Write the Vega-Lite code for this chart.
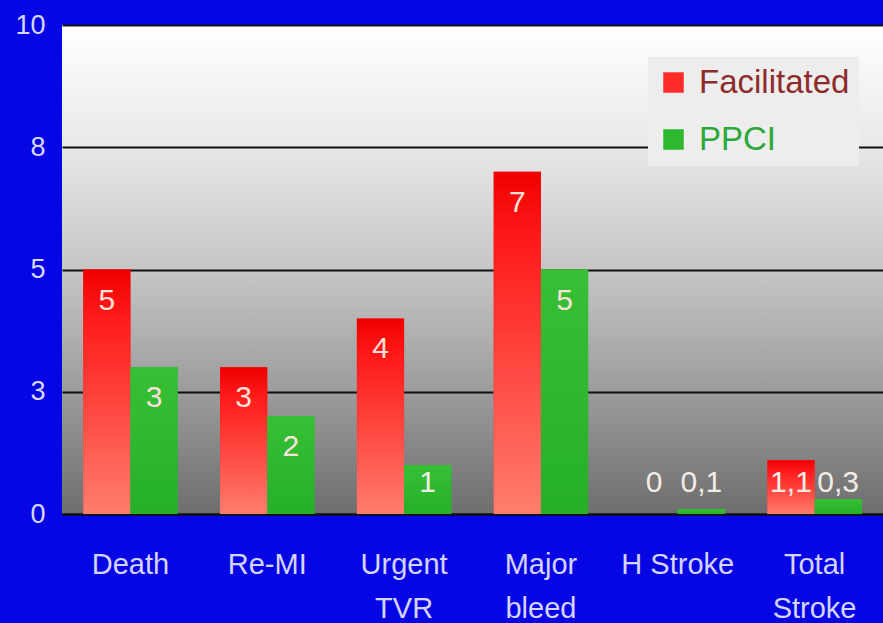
{
  "$schema": "https://vega.github.io/schema/vega-lite/v6.json",
  "width": 821,
  "height": 489,
  "autosize": {"type": "none"},
  "padding": {"left": 62, "top": 25, "right": 0, "bottom": 109},
  "background": "#0606e4",
  "config": {
    "font": "Liberation Sans",
    "view": {
      "stroke": null,
      "fill": {
        "gradient": "linear", "x1": 0, "y1": 0, "x2": 0, "y2": 1,
        "stops": [
          {"offset": 0, "color": "#ffffff"},
          {"offset": 0.25, "color": "#e8e8e8"},
          {"offset": 0.5, "color": "#c6c6c6"},
          {"offset": 0.75, "color": "#9c9c9c"},
          {"offset": 1, "color": "#6e6e6e"}
        ]
      }
    },
    "legend": {
      "orient": "none",
      "legendX": 586,
      "legendY": 32,
      "padding": 9,
      "fillColor": "#ededed",
      "symbolType": "square",
      "symbolSize": 420,
      "symbolStrokeWidth": 0,
      "labelFontSize": 33,
      "labelOffset": 9,
      "rowPadding": 23,
      "labelLimit": 300,
      "title": null
    }
  },
  "data": {
    "values": [
      {"outcome": "Death", "series": "Facilitated", "value": 5, "label": "5"},
      {"outcome": "Death", "series": "PPCI", "value": 3, "label": "3"},
      {"outcome": "Re-MI", "series": "Facilitated", "value": 3, "label": "3"},
      {"outcome": "Re-MI", "series": "PPCI", "value": 2, "label": "2"},
      {"outcome": "Urgent TVR", "series": "Facilitated", "value": 4, "label": "4"},
      {"outcome": "Urgent TVR", "series": "PPCI", "value": 1, "label": "1"},
      {"outcome": "Major bleed", "series": "Facilitated", "value": 7, "label": "7"},
      {"outcome": "Major bleed", "series": "PPCI", "value": 5, "label": "5"},
      {"outcome": "H Stroke", "series": "Facilitated", "value": 0, "label": "0"},
      {"outcome": "H Stroke", "series": "PPCI", "value": 0.1, "label": "0,1"},
      {"outcome": "Total Stroke", "series": "Facilitated", "value": 1.1, "label": "1,1"},
      {"outcome": "Total Stroke", "series": "PPCI", "value": 0.3, "label": "0,3"}
    ]
  },
  "encoding": {
    "x": {
      "field": "outcome",
      "type": "nominal",
      "sort": ["Death", "Re-MI", "Urgent TVR", "Major bleed", "H Stroke", "Total Stroke"],
      "scale": {"paddingInner": 0.31, "paddingOuter": 0.155},
      "axis": {
        "title": null,
        "labelAngle": 0,
        "labelFontSize": 29,
        "labelColor": "#d4d4ff",
        "labelPadding": 36,
        "labelLineHeight": 44,
        "ticks": false,
        "domain": true,
        "domainColor": "#111111",
        "domainWidth": 2,
        "grid": false,
        "labelExpr": "datum.label == 'H Stroke' ? datum.label : split(datum.label, ' ')"
      }
    },
    "xOffset": {
      "field": "series",
      "type": "nominal",
      "scale": {"domain": ["Facilitated", "PPCI"], "paddingInner": 0, "paddingOuter": 0}
    }
  },
  "layer": [
    {
      "mark": {"type": "bar"},
      "encoding": {
        "y": {
          "field": "value",
          "type": "quantitative",
          "scale": {"domain": [0, 10], "nice": false},
          "axis": {
            "title": null,
            "values": [0, 2.5, 5, 7.5, 10],
            "labelExpr": "format(datum.value, '.0f')",
            "labelFontSize": 27,
            "labelColor": "#d8d8ff",
            "labelPadding": 17,
            "ticks": false,
            "domain": false,
            "grid": true,
            "gridColor": "#111111",
            "gridWidth": 2,
            "gridOpacity": 1
          }
        },
        "color": {
          "field": "series",
          "type": "nominal",
          "scale": {"domain": ["Facilitated", "PPCI"], "range": ["#ff2a2a", "#2db82d"]},
          "legend": {
            "encode": {
              "labels": {
                "update": {
                  "fill": {"signal": "datum.value === 'PPCI' ? '#2aa838' : '#8e2c2c'"}
                }
              }
            }
          }
        }
      }
    },
    {
      "transform": [{"filter": "datum.series === 'Facilitated'"}],
      "mark": {
        "type": "bar",
        "color": {
          "gradient": "linear", "x1": 0, "y1": 0, "x2": 0, "y2": 1,
          "stops": [
            {"offset": 0, "color": "#f00000"},
            {"offset": 0.2, "color": "#ff1a1a"},
            {"offset": 1, "color": "#ff7d6e"}
          ]
        }
      },
      "encoding": {
        "y": {"field": "value", "type": "quantitative"}
      }
    },
    {
      "transform": [{"filter": "datum.series === 'PPCI'"}],
      "mark": {
        "type": "bar",
        "color": {
          "gradient": "linear", "x1": 0, "y1": 0, "x2": 0, "y2": 1,
          "stops": [
            {"offset": 0, "color": "#35c035"},
            {"offset": 1, "color": "#26b02a"}
          ]
        }
      },
      "encoding": {
        "y": {"field": "value", "type": "quantitative"}
      }
    },
    {
      "transform": [{"filter": "datum.value >= 1.5"}],
      "mark": {"type": "text", "fontSize": 30, "baseline": "middle", "dy": 31, "color": "#ffe0d8"},
      "encoding": {
        "y": {"field": "value", "type": "quantitative"},
        "text": {"field": "label"}
      }
    },
    {
      "transform": [{"filter": "datum.value < 1.5"}],
      "mark": {"type": "text", "fontSize": 30, "baseline": "middle", "dy": -31, "color": "#f2ece6"},
      "encoding": {
        "y": {"datum": 0},
        "text": {"field": "label"}
      }
    }
  ]
}
